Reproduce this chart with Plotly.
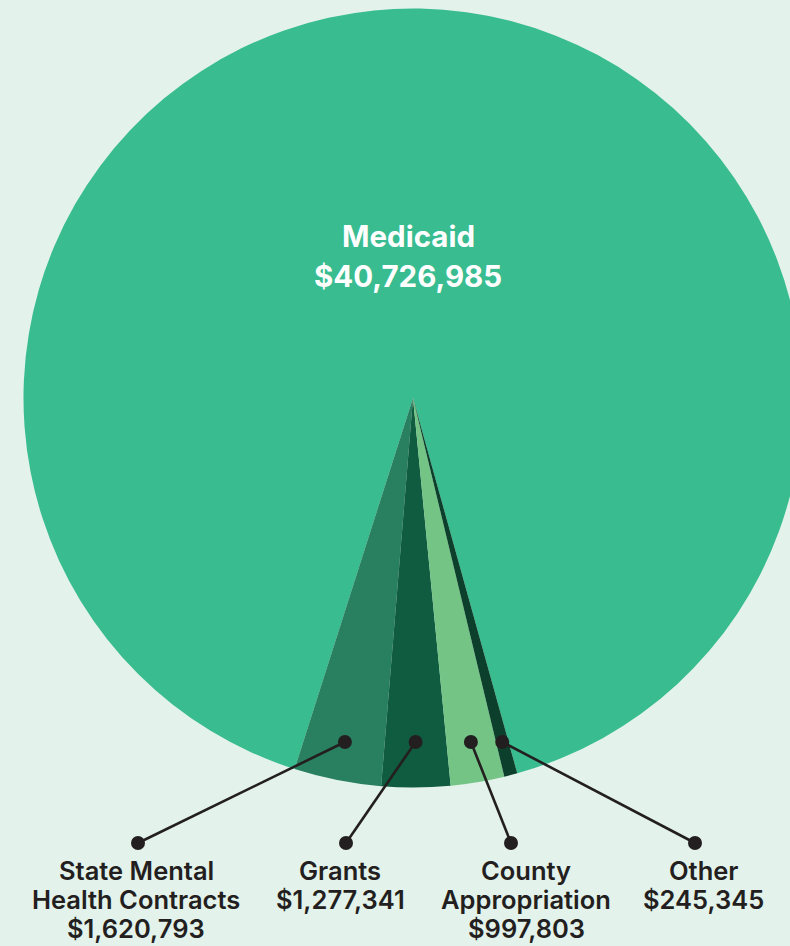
import math
import plotly.graph_objects as go

# ---- data ----
categories = ["Medicaid", "State Mental Health Contracts", "Grants",
              "County Appropriation", "Other"]
values = [40726985, 1620793, 1277341, 997803, 245345]
label_lines = [
    ["Medicaid", "$40,726,985"],
    ["State Mental", "Health Contracts", "$1,620,793"],
    ["Grants", "$1,277,341"],
    ["County", "Appropriation", "$997,803"],
    ["Other", "$245,345"],
]

# ---- styles / layout constants ----
colors = ["#38BC90", "#288060", "#0F5C40", "#73C485", "#0C402C"]
BG = "#E3F2EB"
INK = "#231F20"
FONT = "Inter"
W, H = 806, 946
CX, CY, R = 413.0, 398.0, 389.5          # pie centre / radius in px
BOUNDARY_DEG = 197.7                     # clockwise-from-12 angle of Medicaid|State edge
DOT_Y = 742                              # y-level of the inner callout dots
DOT_R = 7
LINE_W = 2.6
LABEL_DOT_X = [138, 346, 511, 695]       # outer callout dots
LABEL_DOT_Y = 843
LABEL_TEXT_X = [136, 340, 526, 703]
LABEL_LINE_Y = [870, 899, 928]
MED_X, MED_Y = [409, 408], [236, 276]


def px(x):
    return x / W


def py(y):
    return 1 - y / H


fig = go.Figure()
fig.add_trace(go.Pie(
    labels=categories, values=values, sort=False, direction="counterclockwise",
    rotation=BOUNDARY_DEG - 360, textinfo="none", hoverinfo="label+value",
    marker=dict(colors=colors, line=dict(width=0)), showlegend=False,
    domain=dict(x=[px(CX - R), px(CX + R)], y=[py(CY + R), py(CY - R)]),
))

# inner dot positions from slice mid-angles
total = sum(values)
ang = BOUNDARY_DEG
inner = []
for v in values[1:]:
    span = 360 * v / total
    mid = ang - span / 2
    ang -= span
    theta = math.radians(mid)
    t = (DOT_Y - CY) / (-math.cos(theta))
    inner.append((CX + t * math.sin(theta), DOT_Y))

shapes = []
for (ix, iy), ox in zip(inner, LABEL_DOT_X):
    shapes.append(dict(type="line", xref="paper", yref="paper",
                       x0=px(ix), y0=py(iy), x1=px(ox), y1=py(LABEL_DOT_Y),
                       line=dict(color=INK, width=LINE_W), layer="above"))
    for (cx, cy) in [(ix, iy), (ox, LABEL_DOT_Y)]:
        shapes.append(dict(type="circle", xref="paper", yref="paper",
                           x0=px(cx - DOT_R), x1=px(cx + DOT_R),
                           y0=py(cy + DOT_R), y1=py(cy - DOT_R),
                           fillcolor=INK, line=dict(width=0), layer="above"))

annotations = []
for line, x, y in zip(label_lines[0], MED_X, MED_Y):
    annotations.append(dict(x=px(x), y=py(y), xref="paper", yref="paper",
                            text=line, showarrow=False,
                            font=dict(family=FONT, size=29.5, color="white", weight=700),
                            xanchor="center", yanchor="middle"))
for lines, tx in zip(label_lines[1:], LABEL_TEXT_X):
    for line, y in zip(lines, LABEL_LINE_Y):
        annotations.append(dict(x=px(tx), y=py(y), xref="paper", yref="paper",
                                text=line, showarrow=False,
                                font=dict(family=FONT, size=25.5, color=INK, weight=600),
                                xanchor="center", yanchor="middle"))

fig.update_layout(width=W, height=H, margin=dict(l=0, r=0, t=0, b=0),
                  paper_bgcolor=BG, plot_bgcolor=BG, autosize=False,
                  shapes=shapes, annotations=annotations)
fig.write_html(
    "out.html",
    config={"displayModeBar": False},
    post_script=("document.body.style.margin='0';"
                 "document.body.style.overflow='hidden';"
                 "document.documentElement.style.overflow='hidden';"
                 "document.body.style.background='" + BG + "';"),
)
